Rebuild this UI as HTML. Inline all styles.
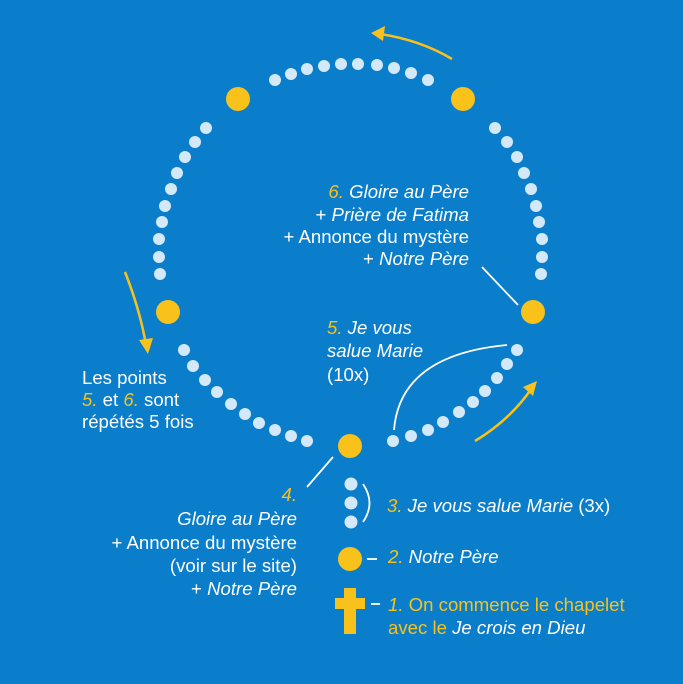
<!DOCTYPE html>
<html><head><meta charset="utf-8"><style>
html,body{margin:0;padding:0;background:#0a7dcb;}
svg{display:block}
text{font-family:"Liberation Sans",sans-serif;font-size:18.6px;fill:#fff}
.i{font-style:italic}
.y{fill:#f9c21b}
</style></head><body>
<svg width="683" height="684" viewBox="0 0 683 684" xmlns="http://www.w3.org/2000/svg">
<rect width="683" height="684" fill="#0a7dcb"/>
<g fill="#d3e8f8">
<circle cx="275" cy="80" r="6"/><circle cx="291" cy="74" r="6"/><circle cx="307" cy="69" r="6"/><circle cx="324" cy="66" r="6"/><circle cx="341" cy="64" r="6"/><circle cx="358" cy="64" r="6"/><circle cx="377" cy="65" r="6"/><circle cx="394" cy="68" r="6"/><circle cx="411" cy="73" r="6"/><circle cx="428" cy="80" r="6"/>
<circle cx="206" cy="128" r="6"/><circle cx="195" cy="142" r="6"/><circle cx="185" cy="157" r="6"/><circle cx="177" cy="173" r="6"/><circle cx="171" cy="189" r="6"/><circle cx="165" cy="206" r="6"/><circle cx="162" cy="222" r="6"/><circle cx="159" cy="239" r="6"/><circle cx="159" cy="257" r="6"/><circle cx="160" cy="274" r="6"/>
<circle cx="495" cy="128" r="6"/><circle cx="507" cy="142" r="6"/><circle cx="517" cy="157" r="6"/><circle cx="524" cy="173" r="6"/><circle cx="531" cy="189" r="6"/><circle cx="536" cy="206" r="6"/><circle cx="539" cy="222" r="6"/><circle cx="542" cy="239" r="6"/><circle cx="542" cy="257" r="6"/><circle cx="541" cy="274" r="6"/>
<circle cx="184" cy="350" r="6"/><circle cx="193" cy="366" r="6"/><circle cx="205" cy="380" r="6"/><circle cx="217" cy="392" r="6"/><circle cx="231" cy="404" r="6"/><circle cx="245" cy="414" r="6"/><circle cx="259" cy="423" r="6"/><circle cx="275" cy="430" r="6"/><circle cx="291" cy="436" r="6"/><circle cx="307" cy="441" r="6"/>
<circle cx="393" cy="441" r="6"/><circle cx="411" cy="436" r="6"/><circle cx="428" cy="430" r="6"/><circle cx="443" cy="422" r="6"/><circle cx="459" cy="412" r="6"/><circle cx="473" cy="402" r="6"/><circle cx="485" cy="391" r="6"/><circle cx="497" cy="378" r="6"/><circle cx="507" cy="364" r="6"/><circle cx="517" cy="350" r="6"/>
<circle cx="351" cy="484" r="6.5"/><circle cx="351" cy="503" r="6.5"/><circle cx="351" cy="522" r="6.5"/>
</g>
<g fill="#f9c21b">
<circle cx="238" cy="99" r="12"/><circle cx="463" cy="99" r="12"/><circle cx="168" cy="312" r="12"/><circle cx="533" cy="312" r="12"/><circle cx="350" cy="446" r="12"/><circle cx="350" cy="559" r="12"/>
<rect x="344" y="588" width="12" height="46"/><rect x="335" y="598" width="30" height="11"/>
</g>
<g fill="none" stroke="#f9c21b" stroke-width="2.5">
<path d="M452 59 Q420 40 380 34"/>
<path d="M125 272 Q140 310 146 345"/>
<path d="M475 441 Q510 420 532 388"/>
</g>
<g fill="#f9c21b">
<polygon points="371,33 385,26 383,41"/>
<polygon points="148,354 139,340 153,338"/>
<polygon points="537,381 533,396 523,387"/>
</g>
<g fill="none" stroke="#fff" stroke-width="1.8">
<path d="M482 267 L518 305"/>
<path d="M394 430 Q400 355 507 345"/>
<path d="M333 457 L307 487"/>
<path d="M363 484 Q376 503 363 522"/>
<path d="M367 559 H377"/>
<path d="M371 604 H380"/>
</g>
<g text-anchor="end">
<text x="469" y="198"><tspan class="i y">6.</tspan><tspan class="i"> Gloire au Père</tspan></text>
<text x="469" y="221"><tspan>+ </tspan><tspan class="i">Prière de Fatima</tspan></text>
<text x="469" y="243">+ Annonce du mystère</text>
<text x="469" y="265"><tspan>+ </tspan><tspan class="i">Notre Père</tspan></text>
<text x="297" y="501" class="i y">4.</text>
<text x="297" y="525" class="i">Gloire au Père</text>
<text x="297" y="549">+ Annonce du mystère</text>
<text x="297" y="572">(voir sur le site)</text>
<text x="297" y="595"><tspan>+ </tspan><tspan class="i">Notre Père</tspan></text>
</g>
<text x="327" y="334"><tspan class="i y">5.</tspan><tspan class="i"> Je vous</tspan></text>
<text x="327" y="357" class="i">salue Marie</text>
<text x="327" y="381">(10x)</text>
<text x="82" y="384">Les points</text>
<text x="82" y="406"><tspan class="i y">5.</tspan> et <tspan class="i y">6.</tspan> sont</text>
<text x="82" y="428">répétés 5 fois</text>
<text x="387" y="512"><tspan class="i y">3.</tspan><tspan class="i"> Je vous salue Marie</tspan> (3x)</text>
<text x="388" y="563"><tspan class="i y">2.</tspan><tspan class="i"> Notre Père</tspan></text>
<text x="388" y="611" class="y"><tspan class="i">1.</tspan> On commence le chapelet</text>
<text x="388" y="634"><tspan class="y">avec le </tspan><tspan class="i">Je crois en Dieu</tspan></text>
</svg>
</body></html>
